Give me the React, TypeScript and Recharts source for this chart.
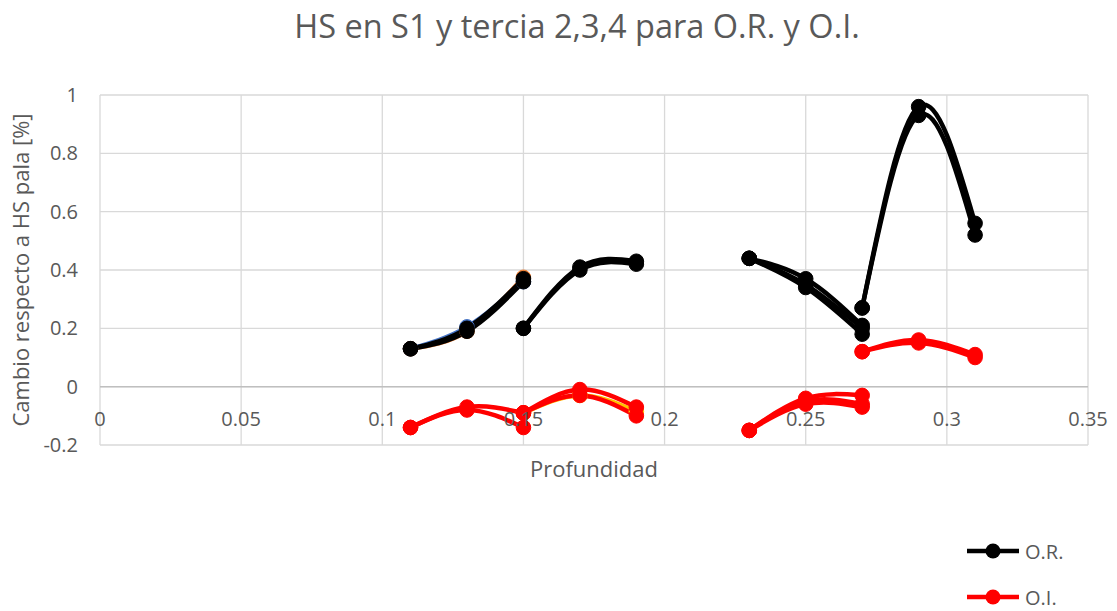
import React from 'react';
import { LineChart, Line, XAxis, YAxis, CartesianGrid, ReferenceLine, Legend } from 'recharts';

// depth groups (x values)
const DEPTH_1 = [0.11, 0.13, 0.15];
const DEPTH_2 = [0.15, 0.17, 0.19];
const DEPTH_3 = [0.23, 0.25, 0.27];
const DEPTH_4 = [0.27, 0.29, 0.31];

// O.R. (black)
const OR_1A = [0.13, 0.2, 0.37];
const OR_1B = [0.13, 0.19, 0.36];
const OR_2A = [0.2, 0.41, 0.43];
const OR_2B = [0.2, 0.4, 0.42];
const OR_3A = [0.44, 0.37, 0.21];
const OR_3B = [0.44, 0.35, 0.2];
const OR_3C = [0.44, 0.34, 0.18];
const OR_4A = [0.27, 0.96, 0.56];
const OR_4B = [0.27, 0.93, 0.52];

// O.I. (red)
const OI_1A = [-0.14, -0.07, -0.09];
const OI_1B = [-0.14, -0.08, -0.14];
const OI_2A = [-0.09, -0.01, -0.07];
const OI_2B = [-0.09, -0.03, -0.1];
const OI_3A = [-0.15, -0.04, -0.03];
const OI_3B = [-0.15, -0.05, -0.06];
const OI_3C = [-0.15, -0.06, -0.07];
const OI_4A = [0.12, 0.16, 0.11];
const OI_4B = [0.12, 0.15, 0.1];

// series left underneath (default colours peeking out)
const HID_BLUE = [0.13, 0.205, 0.36];
const HID_ORANGE = [0.13, 0.19, 0.375];
const HID_GOLD = [-0.09, -0.03, -0.085];

const X_TICKS = [0, 0.05, 0.1, 0.15, 0.2, 0.25, 0.3, 0.35];
const Y_TICKS = [-0.2, 0, 0.2, 0.4, 0.6, 0.8, 1];

const pts = (xs: number[], ys: number[]) => xs.map((x, i) => ({ x, y: ys[i] }));

const hidden = [
  { data: pts(DEPTH_1, HID_BLUE), color: '#4472c4' },
  { data: pts(DEPTH_1, HID_ORANGE), color: '#ed7d31' },
  { data: pts(DEPTH_2, HID_GOLD), color: '#ffc000' },
];

const orSeries = [
  pts(DEPTH_1, OR_1A), pts(DEPTH_1, OR_1B),
  pts(DEPTH_2, OR_2A), pts(DEPTH_2, OR_2B),
  pts(DEPTH_3, OR_3A), pts(DEPTH_3, OR_3B), pts(DEPTH_3, OR_3C),
  pts(DEPTH_4, OR_4A), pts(DEPTH_4, OR_4B),
];
const oiSeries = [
  pts(DEPTH_1, OI_1A), pts(DEPTH_1, OI_1B),
  pts(DEPTH_2, OI_2A), pts(DEPTH_2, OI_2B),
  pts(DEPTH_3, OI_3A), pts(DEPTH_3, OI_3B), pts(DEPTH_3, OI_3C),
  pts(DEPTH_4, OI_4A), pts(DEPTH_4, OI_4B),
];

const W = 1117;
const H = 611;
const PLOT_TOP = 95;
const PLOT_BOTTOM = 445;
const ZERO_Y = PLOT_TOP + (PLOT_BOTTOM - PLOT_TOP) / 1.2;
const FONT = '"Open Sans", sans-serif';
const TEXT = '#595959';

const XTick = (props: any) => {
  const { x, payload } = props;
  return (
    <text x={x} y={ZERO_Y + 32} textAnchor="middle" dominantBaseline="central" fill={TEXT} fontSize={20} fontFamily={FONT}>
      {String(payload.value)}
    </text>
  );
};

const LegendBox = () => (
  <div style={{ fontFamily: FONT, fontSize: 20, color: TEXT }}>
    {[
      { name: 'O.R.', color: '#000000' },
      { name: 'O.I.', color: '#ff0000' },
    ].map((item) => (
      <div key={item.name} style={{ display: 'flex', alignItems: 'center', height: 46 }}>
        <svg width={56} height={20}>
          <line x1={2} y1={10} x2={54} y2={10} stroke={item.color} strokeWidth={4.5} />
          <circle cx={28} cy={10} r={7.5} fill={item.color} />
        </svg>
        <span style={{ marginLeft: 4 }}>{item.name}</span>
      </div>
    ))}
  </div>
);

const lineProps = (color: string) => ({
  type: 'natural' as const,
  dataKey: 'y',
  stroke: color,
  strokeWidth: 4.5,
  dot: { r: 7.3, fill: color, stroke: color, strokeWidth: 1 },
  activeDot: false as const,
  isAnimationActive: false,
  legendType: 'none' as const,
});

export default function App() {
  return (
    <div style={{ position: 'absolute', left: 0, top: 0, width: W, height: H, background: '#fff' }}>
      <LineChart width={W} height={H} margin={{ top: PLOT_TOP, right: 29, bottom: 136, left: 0 }}>
        <CartesianGrid stroke="#d9d9d9" strokeWidth={1.3} />
        <XAxis
          type="number"
          dataKey="x"
          domain={[0, 0.35]}
          ticks={X_TICKS}
          axisLine={false}
          tickLine={false}
          height={30}
          tick={<XTick />}
          interval={0}
        />
        <YAxis
          type="number"
          domain={[-0.2, 1]}
          ticks={Y_TICKS}
          width={100}
          axisLine={false}
          tickLine={false}
          tickSize={0}
          tickMargin={22}
          interval={0}
          tick={{ fill: TEXT, fontSize: 20, fontFamily: FONT }}
        />
        <ReferenceLine y={0} stroke="#bfbfbf" strokeWidth={1.5} />
        {hidden.map((s, i) => (
          <Line key={`h${i}`} data={s.data} {...lineProps(s.color)} />
        ))}
        {orSeries.map((d, i) => (
          <Line key={`or${i}`} data={d} {...lineProps('#000000')} name="O.R." />
        ))}
        {oiSeries.map((d, i) => (
          <Line key={`oi${i}`} data={d} {...lineProps('#ff0000')} name="O.I." />
        ))}
        <Legend
          layout="horizontal"
          align="center"
          verticalAlign="middle"
          content={<LegendBox />}
          wrapperStyle={{ left: 965, top: 528, width: 150, height: 92 }}
        />
      </LineChart>
      <svg width={W} height={H} style={{ position: 'absolute', left: 0, top: 0, pointerEvents: 'none' }}>
        <text x={577} y={38} textAnchor="middle" fill={TEXT} fontSize={32.5} fontFamily={FONT}>
          HS en S1 y tercia 2,3,4 para O.R. y O.I.
        </text>
        <text x={594} y={477} textAnchor="middle" fill={TEXT} fontSize={22} fontFamily={FONT}>
          Profundidad
        </text>
        <text
          x={0}
          y={0}
          transform={`translate(29, 270) rotate(-90)`}
          textAnchor="middle"
          fill={TEXT}
          fontSize={22}
          fontFamily={FONT}
        >
          Cambio respecto a HS pala [%]
        </text>
      </svg>
    </div>
  );
}
